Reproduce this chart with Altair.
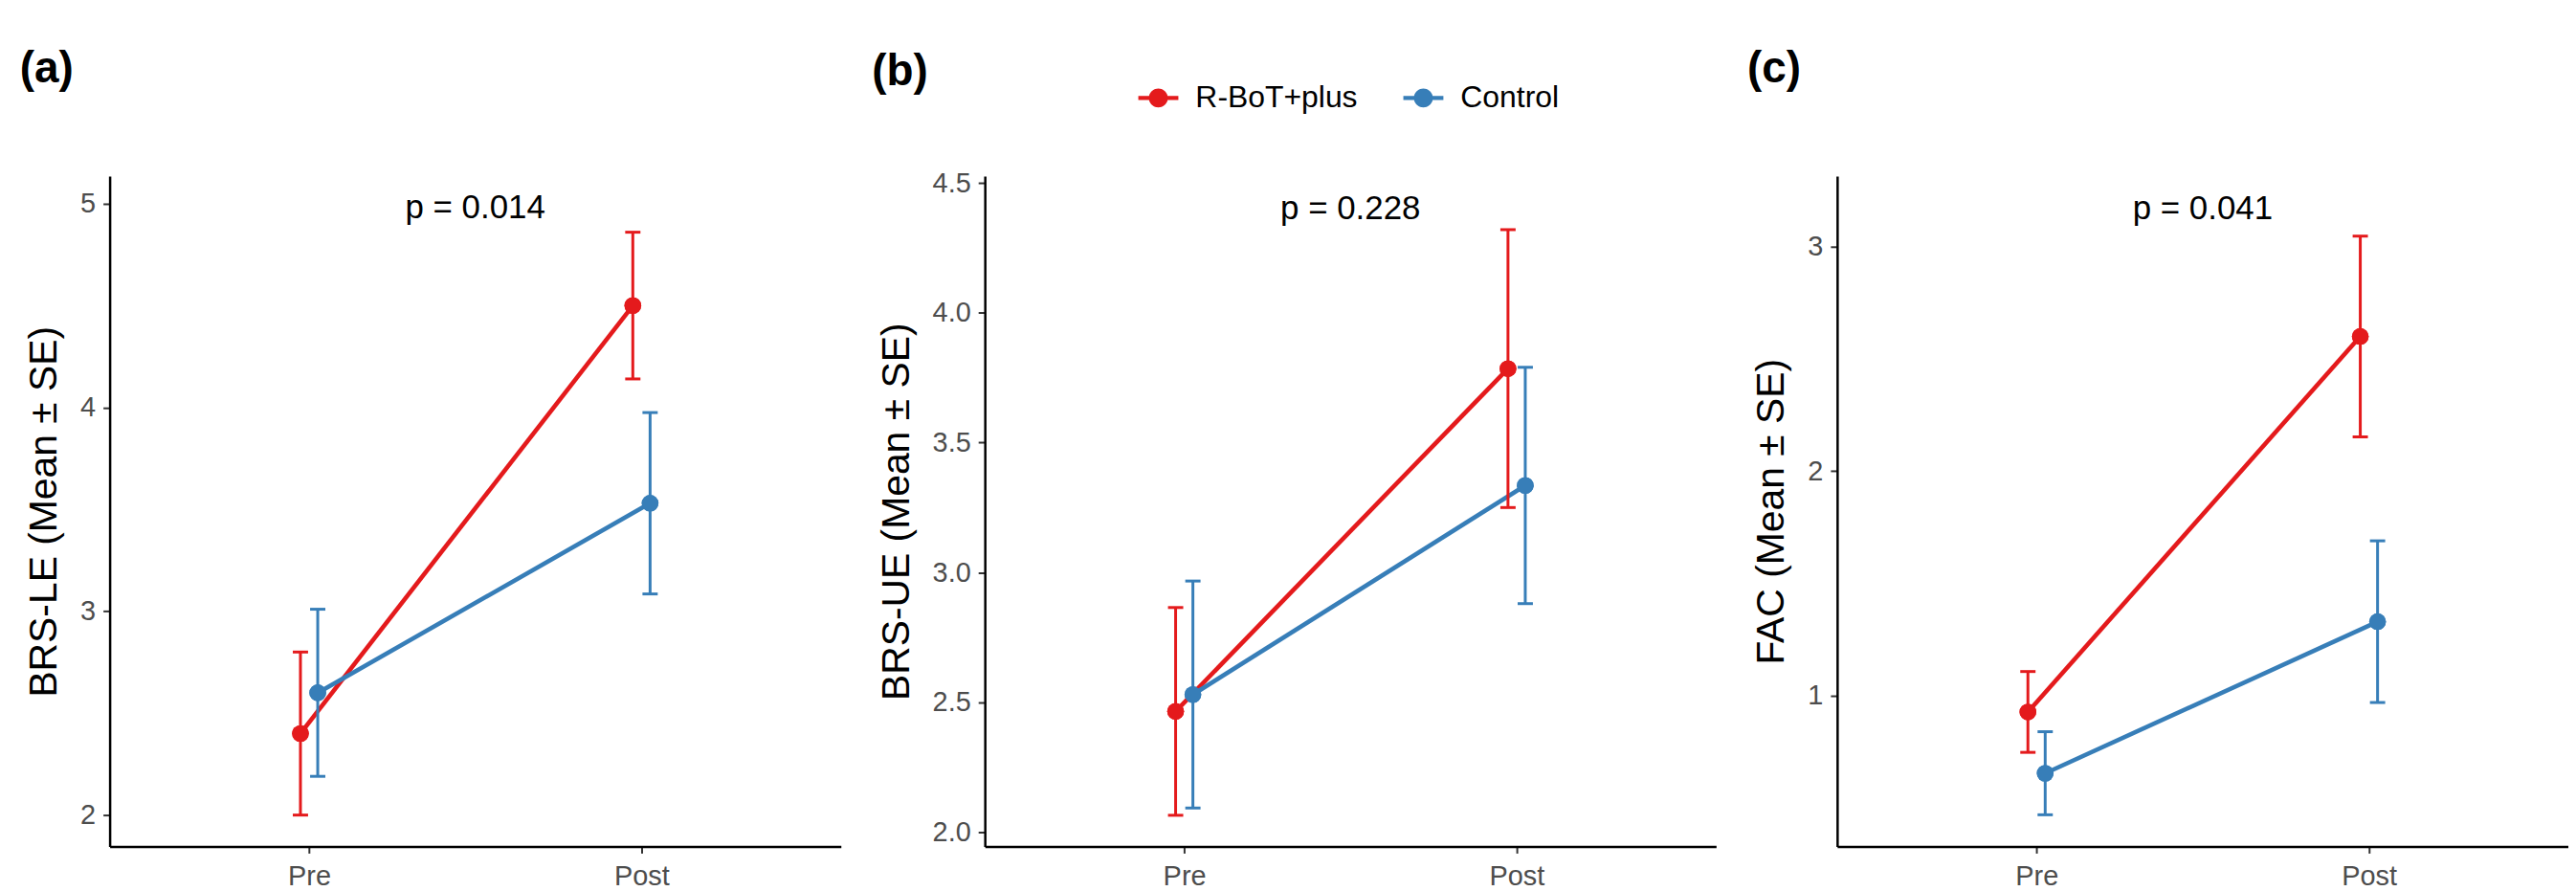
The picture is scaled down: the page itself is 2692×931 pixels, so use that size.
import altair as alt
import pandas as pd

FONT = "Liberation Sans"

time_labels = ["Pre", "Post"]
time_pos = [1, 2]
groups = ["R-BoT+plus", "Control"]
colors = ["#E41A1C", "#377EB8"]
dodge = [-0.026, 0.026]

# panel (a) BRS-LE
a_red_mean = [2.40, 4.50]
a_red_se = [0.40, 0.36]
a_ctl_mean = [2.60, 3.53]
a_ctl_se = [0.41, 0.445]

# panel (b) BRS-UE
b_red_mean = [2.465, 3.785]
b_red_se = [0.40, 0.535]
b_ctl_mean = [2.53, 3.335]
b_ctl_se = [0.437, 0.455]

# panel (c) FAC
c_red_mean = [0.928, 2.60]
c_red_se = [0.18, 0.447]
c_ctl_mean = [0.655, 1.33]
c_ctl_se = [0.185, 0.36]

tags = ["(a)", "(b)", "(c)"]
y_titles = ["BRS-LE (Mean ± SE)", "BRS-UE (Mean ± SE)", "FAC (Mean ± SE)"]
p_texts = ["p = 0.014", "p = 0.228", "p = 0.041"]
p_y = [4.98, 4.40, 3.17]
y_domains = [[1.846, 5.135], [1.945, 4.526], [0.329, 3.314]]
y_ticks = [[2, 3, 4, 5], [2.0, 2.5, 3.0, 3.5, 4.0, 4.5], [1, 2, 3]]
y_formats = ["d", ".1f", "d"]
title_offsets = [52, 43, 52]

label_expr = f"datum.value == 1 ? '{time_labels[0]}' : '{time_labels[1]}'"

legend_path = ("M-2.1,-0.22 L-0.975,-0.22 A1,1 0 0,1 0.975,-0.22 L2.1,-0.22 "
               "L2.1,0.22 L0.975,0.22 A1,1 0 0,1 -0.975,0.22 L-2.1,0.22 Z")

LEG = alt.Legend(orient="none", legendX=1084, legendY=-98,
                 direction="horizontal", title=None,
                 labelFont=FONT, labelFontSize=32, labelColor="black",
                 labelLimit=400,
                 symbolType=legend_path, symbolSize=400,
                 symbolStrokeWidth=0, symbolOpacity=1,
                 labelOffset=23, columnPadding=48, padding=0)


def build_panel(idx, red_mean, red_se, ctl_mean, ctl_se):
    rows = []
    for g, means, ses, off in [(groups[0], red_mean, red_se, dodge[0]),
                               (groups[1], ctl_mean, ctl_se, dodge[1])]:
        for t, m, s in zip(time_pos, means, ses):
            rows.append({"group": g, "x": t + off, "mean": m,
                         "lo": m - s, "hi": m + s})
    df = pd.DataFrame(rows)

    xenc = alt.X("x:Q",
                 scale=alt.Scale(domain=[0.4, 2.6], nice=False, zero=False),
                 axis=alt.Axis(values=time_pos, labelExpr=label_expr, title=None,
                               labelPadding=10))
    yscale = alt.Scale(domain=y_domains[idx], nice=False, zero=False)
    yaxis = alt.Axis(values=y_ticks[idx], format=y_formats[idx],
                     title=y_titles[idx], titlePadding=16, labelPadding=8)
    cscale = alt.Scale(domain=groups, range=colors)
    col = alt.Color("group:N", scale=cscale, sort=groups)

    base = alt.Chart(df)
    # first point layer carries the legend (filled symbol)
    pts_leg = base.mark_point(filled=True, size=310, opacity=1).encode(
        x=xenc,
        y=alt.Y("mean:Q", scale=yscale, axis=yaxis),
        color=alt.Color("group:N", scale=cscale, sort=groups, legend=LEG),
    )
    line = base.mark_line(strokeWidth=4.6, opacity=1).encode(
        x="x:Q", y="mean:Q", color=col, detail="group:N",
    )
    rule = base.mark_rule(strokeWidth=3, opacity=1).encode(
        x="x:Q", y="lo:Q", y2="hi:Q", color=col,
    )
    cap_lo = base.mark_tick(orient="horizontal", size=16, thickness=3,
                            opacity=1).encode(
        x="x:Q", y="lo:Q", color=col,
    )
    cap_hi = base.mark_tick(orient="horizontal", size=16, thickness=3,
                            opacity=1).encode(
        x="x:Q", y="hi:Q", color=col,
    )
    pts = base.mark_point(filled=True, size=310, opacity=1).encode(
        x="x:Q", y="mean:Q", color=col,
    )
    ptxt = alt.Chart(pd.DataFrame({"x": [1.5], "y": [p_y[idx]],
                                   "label": [p_texts[idx]]})).mark_text(
        font=FONT, fontSize=35, color="black", baseline="middle"
    ).encode(x="x:Q", y="y:Q", text="label:N")

    return alt.layer(pts_leg, line, rule, cap_lo, cap_hi, pts, ptxt).properties(
        width=767, height=703,
        title=alt.TitleParams(text=tags[idx], anchor="start", frame="bounds",
                              dx=-5, fontSize=46, fontWeight="bold",
                              font=FONT, baseline="alphabetic",
                              offset=title_offsets[idx], color="black"),
    )


pa = build_panel(0, a_red_mean, a_red_se, a_ctl_mean, a_ctl_se)
pb = build_panel(1, b_red_mean, b_red_se, b_ctl_mean, b_ctl_se)
pc = build_panel(2, c_red_mean, c_red_se, c_ctl_mean, c_ctl_se)

chart = alt.hconcat(pa, pb, pc, spacing=32).properties(
    padding={"left": 12, "top": 40, "right": 0, "bottom": 0}
).configure(background="white").configure_view(stroke=None).configure_axis(
    grid=False, domainColor="black", domainWidth=2.5,
    tickColor="#333333", tickWidth=2, tickSize=7,
    labelFont=FONT, labelFontSize=29, labelColor="#4D4D4D",
    titleFont=FONT, titleFontSize=41, titleColor="black",
    titleFontWeight="normal",
)

chart.save("out.html", embed_options={"renderer": "svg", "actions": False})
